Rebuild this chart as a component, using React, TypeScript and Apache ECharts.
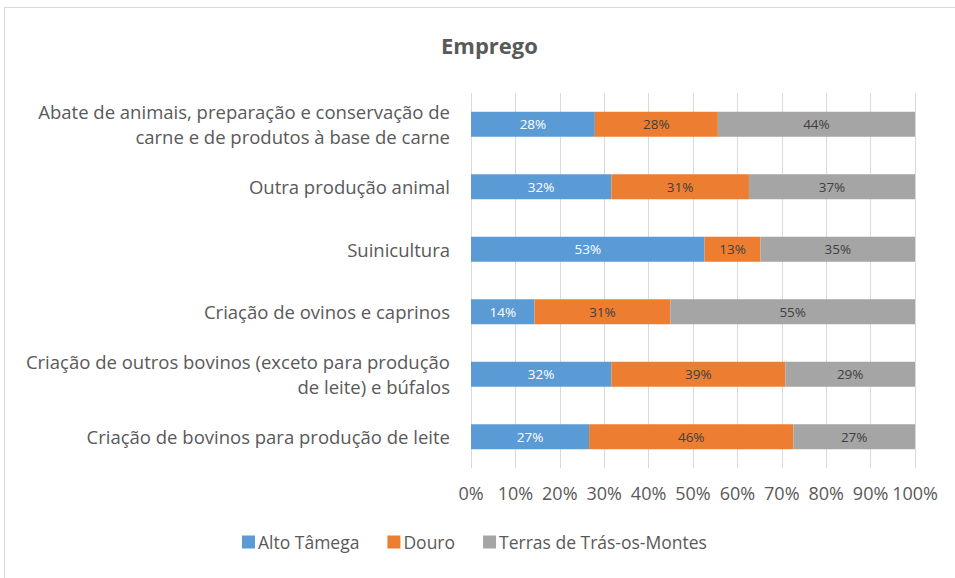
import React, { useEffect, useRef } from "react";
import * as echarts from "echarts";

const categories = [
  "Abate de animais, preparação e conservação de\ncarne e de produtos à base de carne",
  "Outra produção animal",
  "Suinicultura",
  "Criação de ovinos e caprinos",
  "Criação de outros bovinos (exceto para produção\nde leite) e búfalos",
  "Criação de bovinos para produção de leite",
];
const seriesNames = ["Alto Tâmega", "Douro", "Terras de Trás-os-Montes"];
const altoTamega = [27.9, 31.6, 52.6, 14.3, 31.6, 26.6];
const douro = [27.7, 31.0, 12.6, 30.6, 39.2, 46.0];
const terras = [44.4, 37.4, 34.8, 55.1, 29.2, 27.4];
const xTicks = { min: 0, max: 100, interval: 10 };
const colors = ["#5b9bd5", "#ed7d31", "#a5a5a5"];
const labelColors = ["#ffffff", "#404040", "#404040"];

const FONT = "'Open Sans', sans-serif";

export default function App() {
  const ref = useRef<HTMLDivElement>(null);
  useEffect(() => {
    if (!ref.current) return;
    const chart = echarts.init(ref.current, undefined, { renderer: "svg" });
    const dataSets = [altoTamega, douro, terras];
    chart.setOption({
      animation: false,
      textStyle: { fontFamily: FONT },
      title: {
        text: "Emprego",
        left: 436,
        top: 29,
        textStyle: { fontFamily: FONT, fontSize: 22, fontWeight: "bold", color: "#595959" },
      },
      graphic: [
        {
          type: "rect",
          shape: { x: 4.5, y: 7.5, width: 1000, height: 700 },
          style: { fill: "none", stroke: "#d9d9d9", lineWidth: 1 },
          silent: true,
        },
      ],
      legend: {
        left: 242,
        top: 533,
        padding: 0,
        itemWidth: 13,
        itemHeight: 13,
        itemGap: 28,
        icon: "rect",
        textStyle: { fontFamily: FONT, fontSize: 17.5, color: "#595959", padding: [0, 0, 0, -2] },
        data: seriesNames,
      },
      grid: { left: 471, right: 40, top: 93, bottom: 110 },
      xAxis: {
        type: "value",
        min: xTicks.min,
        max: xTicks.max,
        interval: xTicks.interval,
        axisLine: { show: false },
        axisTick: { show: false },
        splitLine: { lineStyle: { color: "#d9d9d9", width: 1 } },
        axisLabel: {
          formatter: "{value}%",
          margin: 16,
          fontFamily: FONT,
          fontSize: 18,
          color: "#595959",
        },
      },
      yAxis: {
        type: "category",
        inverse: true,
        data: categories,
        axisLine: { show: false },
        axisTick: { show: false },
        axisLabel: {
          margin: 21,
          fontFamily: FONT,
          fontSize: 18.5,
          lineHeight: 25,
          color: "#595959",
          align: "right",
        },
      },
      series: seriesNames.map((name, i) => ({
        name,
        type: "bar",
        stack: "total",
        barWidth: 25,
        data: dataSets[i],
        itemStyle: { color: colors[i] },
        label: {
          show: true,
          position: "inside",
          fontFamily: FONT,
          fontSize: 13.5,
          color: labelColors[i],
          formatter: (p: any) => Math.round(p.value) + "%",
        },
      })),
    });
    return () => chart.dispose();
  }, []);
  return (
    <div
      ref={ref}
      style={{ position: "fixed", left: 0, top: 0, width: 955, height: 578, background: "#fff" }}
    />
  );
}
